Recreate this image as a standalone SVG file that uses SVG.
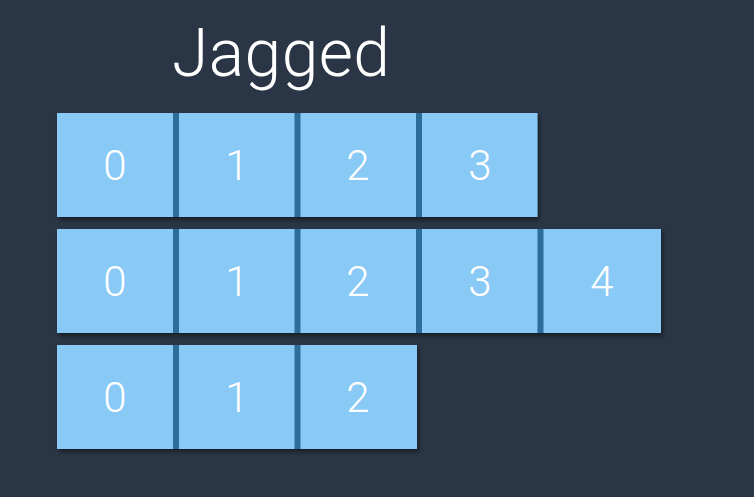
<svg xmlns="http://www.w3.org/2000/svg" width="754" height="497" viewBox="0 0 754 497">
<defs>
<style>
.bg{fill:#2a3646}
.row{fill:#89c9f6;filter:url(#sh)}
.sep{fill:#2d6d9c}
.d{font-family:Roboto,"Liberation Sans",sans-serif;font-weight:300;font-size:42px;fill:#ffffff;text-anchor:middle}
.t{font-family:Roboto,"Liberation Sans",sans-serif;font-weight:300;font-size:66px;fill:#ffffff;text-anchor:middle}
</style>
<filter id="sh" x="-5%" y="-10%" width="115%" height="130%">
<feDropShadow dx="2" dy="3" stdDeviation="2" flood-color="#000" flood-opacity="0.45"/>
</filter>
</defs>
<rect class="bg" x="0" y="0" width="754" height="497"/>
<text class="t" x="281" y="76" textLength="218" lengthAdjust="spacing">Jagged</text>
<g id="row0">
<rect class="row" x="57" y="113" width="480.5" height="104"/>
<rect class="sep" x="173" y="113" width="6" height="104"/>
<rect class="sep" x="294.5" y="113" width="6" height="104"/>
<rect class="sep" x="416" y="113" width="6" height="104"/>
<text class="d" x="115" y="180">0</text>
<text class="d" x="237" y="180">1</text>
<text class="d" x="358" y="180">2</text>
<text class="d" x="480" y="180">3</text>
</g>
<g id="row1">
<rect class="row" x="57" y="229" width="604" height="104"/>
<rect class="sep" x="173" y="229" width="6" height="104"/>
<rect class="sep" x="294.5" y="229" width="6" height="104"/>
<rect class="sep" x="416" y="229" width="6" height="104"/>
<rect class="sep" x="537.5" y="229" width="6" height="104"/>
<text class="d" x="115" y="296">0</text>
<text class="d" x="237" y="296">1</text>
<text class="d" x="358" y="296">2</text>
<text class="d" x="480" y="296">3</text>
<text class="d" x="602" y="296">4</text>
</g>
<g id="row2">
<rect class="row" x="57" y="345" width="360" height="104"/>
<rect class="sep" x="173" y="345" width="6" height="104"/>
<rect class="sep" x="294.5" y="345" width="6" height="104"/>
<text class="d" x="115" y="412">0</text>
<text class="d" x="237" y="412">1</text>
<text class="d" x="358" y="412">2</text>
</g>
<g id="connectors"/>
</svg>
